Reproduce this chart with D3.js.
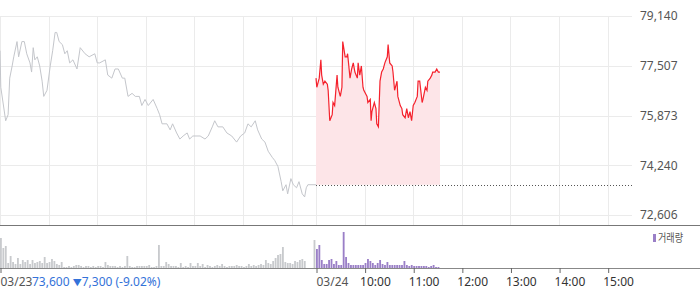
<!DOCTYPE html>
<html>
<head>
<meta charset="utf-8">
<script src="https://cdn.jsdelivr.net/npm/d3@7"></script>
<style>
  body { margin: 0; background: #fff; }
  text { font-family: "Noto Sans", "Noto Sans CJK KR", sans-serif; }
</style>
</head>
<body>
<svg id="chart" width="700" height="289"></svg>
<script>
//------------------------------------------------------------------------------
//Data
//------------------------------------------------------------------------------
// [minutes after 09:00, price]
var day1Price = [
  [0,78000],[1,76800],[7,75700],[10,75900],[12,77100],[15,77500],[17,77800],[21,78300],
  [23,77800],[27,78300],[30,78300],[33,77900],[37,77600],[39,77300],[41,78100],[43,77700],
  [46,77800],[49,77500],[52,77000],[54,76500],[58,76700],[62,77500],[65,78000],[68,78600],
  [70,78600],[73,78300],[77,78200],[80,77900],[83,78000],[86,77600],[90,77700],[95,77400],
  [99,78100],[105,77900],[110,77800],[117,77900],[120,77600],[123,77600],[130,77700],[133,77200],
  [138,77100],[142,77400],[146,77400],[151,77100],[154,77100],[158,76500],[163,76600],[167,76500],
  [172,76500],[175,76200],[179,76400],[183,76200],[189,76400],[194,76100],[197,75900],[200,75600],
  [206,75600],[210,75400],[213,75600],[218,75300],[222,75100],[226,75200],[231,75300],[234,75100],
  [238,75200],[247,75200],[253,75100],[257,75200],[262,75500],[265,75700],[269,75500],[275,75500],
  [280,75300],[286,75200],[292,75000],[297,75200],[302,75300],[306,75600],[310,75500],[315,75700],
  [318,75400],[323,75100],[327,75000],[331,74700],[336,74500],[339,74400],[343,74200],[347,73700],
  [349,73400],[353,73600],[355,73300],[359,73800],[362,73600],[366,73500],[369,73700],[373,73300],
  [376,73200],[378,73500],[380,73600],[390,73600]
];

var day2Price = [
  [0,77100],[1,76800],[4,77100],[6,77700],[7,77200],[9,76900],[11,77000],[14,76900],
  [15,76700],[17,75700],[20,75900],[21,76300],[23,76200],[26,77200],[27,76800],[30,76500],
  [32,76800],[33,78300],[36,77800],[38,77800],[39,77900],[42,77100],[44,77400],[46,77600],
  [48,77300],[51,77100],[52,77600],[54,77200],[56,77500],[58,76800],[59,76700],[63,76500],
  [64,76300],[67,76400],[68,75700],[69,76000],[72,76300],[74,76100],[75,75600],[77,75500],
  [79,77000],[81,77300],[83,77400],[85,77600],[88,77800],[89,78200],[91,77600],[94,77500],
  [95,77300],[97,76700],[100,77000],[101,76500],[104,76200],[106,76100],[107,75900],[110,75800],
  [112,76100],[114,75800],[116,76000],[118,75700],[120,76200],[122,76300],[125,76500],[126,77000],
  [128,77000],[131,76300],[132,76400],[135,76800],[137,76700],[138,77000],[141,77100],[143,77200],
  [144,77300],[147,77300],[149,77400],[151,77300],[153,77300]
];

var prevClose = 73600;

// volume, 3-minute bins from 09:00
var day1Vol = [
  30,20,22,5,12,6,4,10,4,8,
  6,8,4,8,5,6,7,5,11,5,
  6,9,7,4,3,6,1,1,2,1,
  2,3,3,2,1,2,2,1,2,1,
  2,2,1,6,3,2,2,2,1,2,
  1,2,12,2,1,1,2,2,2,2,
  2,3,1,1,2,23,2,2,6,4,
  2,2,2,1,5,1,2,1,5,2,
  2,5,2,4,1,3,2,1,2,3,
  2,4,2,1,2,2,2,3,2,2,
  1,2,4,2,3,2,3,4,3,8,
  5,4,7,10,13,14,21,6,5,5,
  4,7,6,8,9,7,0,0,0,28
];

var day2Vol = [
  19,23,8,4,4,8,9,4,7,3,
  3,36,11,5,3,3,3,3,3,3,
  5,9,7,5,3,5,8,4,3,6,
  3,3,3,3,3,3,7,3,2,3,
  2,2,2,2,2,2,1,2,3,1,
  1
];

var priceTicks = [72606, 74240, 75873, 77507, 79140];
var timeTicks = [0, 390, 450, 510, 570, 630, 690, 750];
var timeLabels = ["03/23", "03/24", "10:00", "11:00", "12:00", "13:00", "14:00", "15:00"];
var changeText = ["73,600 ", "\u25BC", "7,300 (-9.02%)"];
var legendText = "거래량";

//------------------------------------------------------------------------------
//Chart
//------------------------------------------------------------------------------
var svg = d3.select("#chart");
var plotRight = 632;
var dayLen = 390;

var x = d3.scaleLinear().domain([0, dayLen * 2]).range([0, plotRight]);
var y = d3.scaleLinear().domain([priceTicks[0], priceTicks[4]]).range([215, 16]);
var v = d3.scaleLinear().domain([0, 40]).range([268, 228]);

function pos(day, m) { return x(day * dayLen + m); }

// grid
var hours = [];
for (var d = 0; d < 2; d++) {
  for (var h = 0; h <= 6; h++) hours.push(d * dayLen + h * 60);
}
svg.append("g")
  .selectAll("line")
  .data(hours)
  .enter()
  .append("line")
  .attr("x1", function (d) { return Math.round(x(d)) + 0.5; })
  .attr("x2", function (d) { return Math.round(x(d)) + 0.5; })
  .attr("y1", 16)
  .attr("y2", 225)
  .attr("stroke", "#ebebeb");

svg.append("g")
  .selectAll("line")
  .data(priceTicks)
  .enter()
  .append("line")
  .attr("x1", 0)
  .attr("x2", plotRight)
  .attr("y1", function (d) { return Math.round(y(d)) + 0.5; })
  .attr("y2", function (d) { return Math.round(y(d)) + 0.5; })
  .attr("stroke", "#ebebeb");

// right price axis
var yAxis = svg.append("g")
  .attr("transform", "translate(" + plotRight + ",0)")
  .call(d3.axisRight(y).tickValues(priceTicks).tickSize(0).tickPadding(8)
    .tickFormat(d3.format(",")));
yAxis.select(".domain").remove();
yAxis.selectAll("text").attr("font-size", "12px").attr("fill", "#555")
  .attr("font-family", '"Noto Sans", sans-serif');

// area + lines
var area = d3.area()
  .x(function (d) { return pos(1, d[0]); })
  .y0(y(prevClose))
  .y1(function (d) { return y(d[1]); });

svg.append("path")
  .datum(day2Price)
  .attr("d", area)
  .attr("fill", "#fde5e8");

svg.append("line")
  .attr("x1", pos(1, 0))
  .attr("x2", plotRight)
  .attr("y1", Math.round(y(prevClose)) + 0.5)
  .attr("y2", Math.round(y(prevClose)) + 0.5)
  .attr("stroke", "#555")
  .attr("stroke-dasharray", "1,2");

var line1 = d3.line()
  .x(function (d) { return pos(0, d[0]); })
  .y(function (d) { return y(d[1]); });
var line2 = d3.line()
  .x(function (d) { return pos(1, d[0]); })
  .y(function (d) { return y(d[1]); });

svg.append("path")
  .datum(day1Price)
  .attr("d", line1)
  .attr("fill", "none")
  .attr("stroke", "#c4c6cb")
  .attr("stroke-width", 1);

svg.append("path")
  .datum(day2Price)
  .attr("d", line2)
  .attr("fill", "none")
  .attr("stroke", "#f5222d")
  .attr("stroke-width", 1.2);

// panel separator
svg.append("line")
  .attr("x1", 0).attr("x2", 700)
  .attr("y1", 225.5).attr("y2", 225.5)
  .attr("stroke", "#777");

// volume bars
var bw = x(3) - x(0) - 0.6;
svg.append("g")
  .selectAll("rect")
  .data(day1Vol)
  .enter()
  .append("rect")
  .attr("x", function (d, i) { return pos(0, i * 3); })
  .attr("y", function (d) { return v(d); })
  .attr("width", bw)
  .attr("height", function (d) { return v(0) - v(d); })
  .attr("fill", "#c8cacd");

svg.append("g")
  .selectAll("rect")
  .data(day2Vol)
  .enter()
  .append("rect")
  .attr("x", function (d, i) { return pos(1, i * 3); })
  .attr("y", function (d) { return v(d); })
  .attr("width", bw)
  .attr("height", function (d) { return v(0) - v(d); })
  .attr("fill", "#9a7fc7");

// legend
svg.append("rect")
  .attr("x", 653).attr("y", 234).attr("width", 3).attr("height", 8)
  .attr("fill", "#9a7fc7");
svg.append("text")
  .attr("x", 658).attr("y", 238)
  .attr("dy", "0.35em")
  .attr("font-size", "11px")
  .attr("font-family", '"Noto Sans CJK KR", sans-serif')
  .attr("textLength", 25)
  .attr("lengthAdjust", "spacingAndGlyphs")
  .attr("fill", "#555")
  .text(legendText);

// bottom time axis
svg.append("line")
  .attr("x1", 0).attr("x2", 700)
  .attr("y1", 268.5).attr("y2", 268.5)
  .attr("stroke", "#888");

var xAxis = svg.append("g")
  .attr("transform", "translate(0,268)")
  .call(d3.axisBottom(x).tickValues(timeTicks).tickSize(5)
    .tickFormat(function (d, i) { return timeLabels[i]; }));
xAxis.select(".domain").remove();
xAxis.selectAll(".tick line").attr("stroke", "#666")
  .attr("transform", "translate(0.5,0)");
xAxis.selectAll("text")
  .attr("font-size", "12px")
  .attr("fill", function (d, i) { return i < 2 ? "#555" : "#333"; })
  .attr("font-family", '"Noto Sans", sans-serif')
  .attr("text-anchor", "start")
  .attr("y", 9.5)
  .attr("x", function (d, i) { return i < 2 ? 0 : -5; });

// previous day change
var ct = svg.append("text")
  .attr("x", 32).attr("y", 286)
  .attr("font-size", "12px")
  .attr("fill", "#3472d9");
ct.append("tspan").text(changeText[0]);
ct.append("tspan").attr("font-size", "9px").text(changeText[1]);
ct.append("tspan").text(changeText[2]);
</script>
</body>
</html>
